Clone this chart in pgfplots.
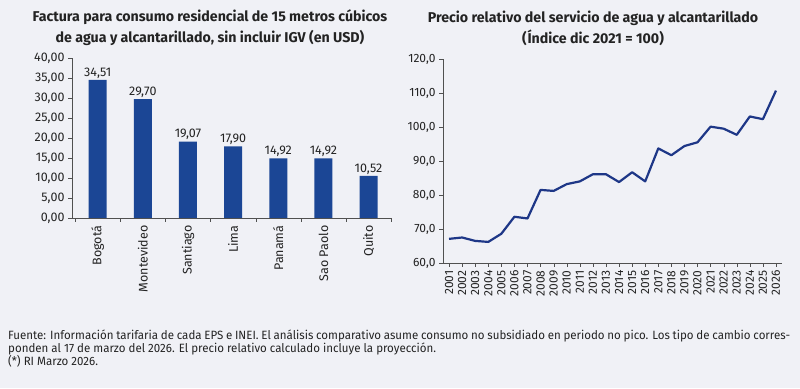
\documentclass[border=0pt]{standalone}
\usepackage{fontspec}
\setmainfont{Fira Sans}
\newfontfamily\footfont{Fira Sans}[FakeStretch=0.96]
\usepackage{pgfplots}
\pgfplotsset{compat=1.18}
\definecolor{bg}{RGB}{240,241,246}
\definecolor{barblue}{RGB}{27,70,149}
\definecolor{lineblue}{RGB}{30,55,135}
\definecolor{txt}{RGB}{35,35,35}
\definecolor{axisgray}{RGB}{80,80,80}
\begin{document}
\begin{tikzpicture}
\fill[bg] (0,0) rectangle (800pt,388pt);
\path[use as bounding box] (0,0) rectangle (800pt,388pt);

% Titles
\node[align=center, font=\bfseries\fontsize{14.2}{21}\selectfont, text=txt] at (210pt,360pt)
  {Factura para consumo residencial de 15 metros cúbicos\\de agua y alcantarillado, sin incluir IGV (en USD)};
\node[align=center, font=\bfseries\fontsize{14.2}{21}\selectfont, text=txt] at (593pt,360pt)
  {Precio relativo del servicio de agua y alcantarillado\\(Índice dic 2021 = 100)};

% Left chart
\begin{axis}[
  at={(72pt,170pt)}, anchor=south west,
  scale only axis, width=320pt, height=160pt,
  xmin=-0.57, xmax=6.52, ymin=0, ymax=40,
  axis lines=left, axis line style={axisgray,-},
  ybar, bar width=18pt,
  ytick={0,5,...,40},
  yticklabel style={/pgf/number format/fixed, /pgf/number format/fixed zerofill, /pgf/number format/precision=2, /pgf/number format/use comma, /pgf/number format/assume math mode=true},
  xtick={0,...,6},
  xticklabels={Bogotá,Montevideo,Santiago,Lima,Panamá,Sao Paolo,Quito},
  x tick label style={rotate=90, anchor=east},
  minor xtick={-0.5,0.5,...,6.5},
  major x tick style={draw=none},
  tick align=outside, major tick length=4pt, minor tick length=4pt,
  tick style={axisgray},
  ticklabel style={font=\fontsize{12.5}{14}\selectfont, text=txt},
  nodes near coords={\pgfmathprintnumber[fixed,fixed zerofill,precision=2,use comma,assume math mode=true]{\pgfplotspointmeta}},
  every node near coord/.append style={font=\fontsize{12.5}{14}\selectfont, text=txt, inner sep=1.5pt},
  clip=false,
]
\addplot[fill=barblue, draw=none] coordinates {
  (0,34.51) (1,29.70) (2,19.07) (3,17.90) (4,14.92) (5,14.92) (6,10.52)
};
\end{axis}

% Right chart
\begin{axis}[
  at={(443pt,125pt)}, anchor=south west,
  scale only axis, width=339pt, height=204pt,
  xmin=2000.54, xmax=2026.46, ymin=60, ymax=120,
  axis lines=left, axis line style={axisgray,-},
  ytick={60,70,...,120},
  yticklabel style={/pgf/number format/fixed, /pgf/number format/fixed zerofill, /pgf/number format/precision=1, /pgf/number format/use comma, /pgf/number format/assume math mode=true},
  xtick={2001,...,2026},
  xticklabel style={/pgf/number format/1000 sep={}, /pgf/number format/assume math mode=true, rotate=90, anchor=east},
  tick align=outside, major tick length=4pt,
  tick style={axisgray},
  ticklabel style={font=\fontsize{12}{13}\selectfont, text=txt},
]
\addplot[lineblue, line width=2.2pt, line join=round] coordinates {
  (2001,67.1) (2002,67.5) (2003,66.5) (2004,66.2) (2005,68.6) (2006,73.6)
  (2007,73.1) (2008,81.5) (2009,81.2) (2010,83.2) (2011,84.0) (2012,86.1)
  (2013,86.1) (2014,83.8) (2015,86.7) (2016,84.0) (2017,93.7) (2018,91.7)
  (2019,94.4) (2020,95.5) (2021,100.1) (2022,99.5) (2023,97.7) (2024,103.1)
  (2025,102.3) (2026,110.7)
};
\end{axis}

% Footer
\begin{scope}[every node/.style={anchor=base west, inner sep=0pt, text=txt, font=\footfont\fontsize{12}{12.5}\selectfont}]
\node at (8pt,48pt) {\makebox[782pt][s]{Fuente: Información tarifaria de cada EPS e INEI. El análisis comparativo asume consumo no subsidiado en periodo no pico. Los tipo de cambio corres-}};
\node at (8pt,35.5pt) {ponden al 17 de marzo del 2026. El precio relativo calculado incluye la proyección.};
\node at (8pt,23pt) {(*) RI Marzo 2026.};
\end{scope}
\end{tikzpicture}
\end{document}
